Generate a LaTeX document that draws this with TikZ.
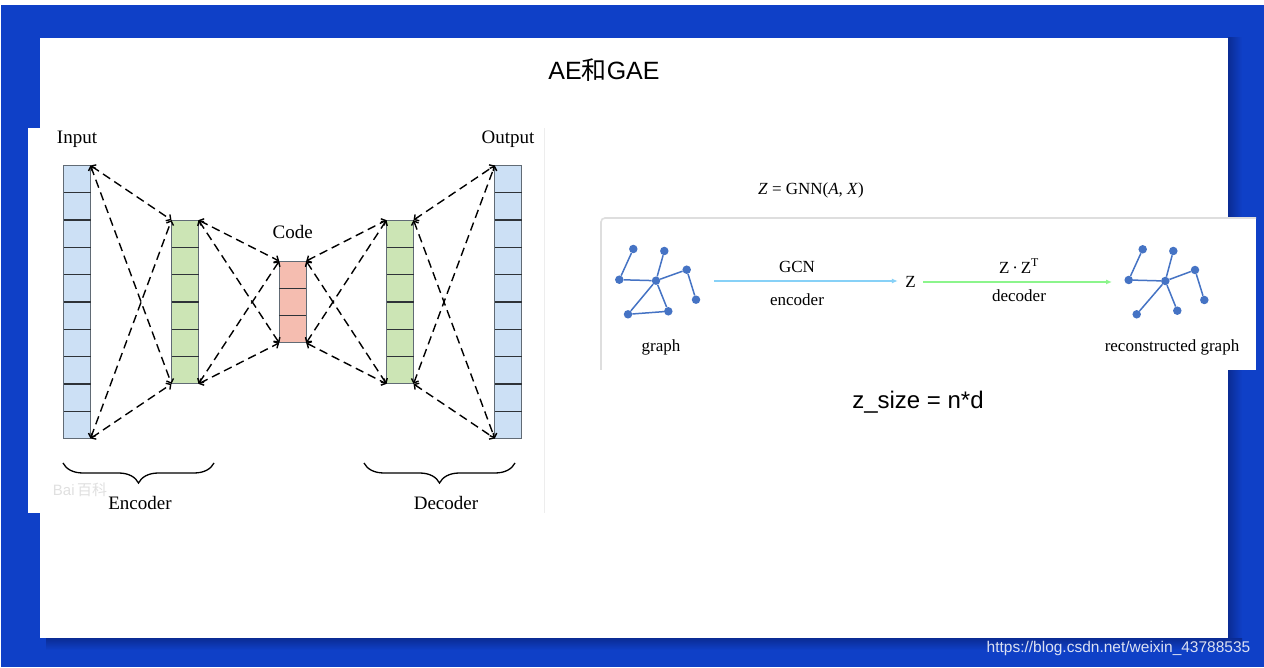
\documentclass[tikz,border=0pt]{standalone}
\usepackage{fontspec}
\setmainfont{Liberation Serif}
\setsansfont{Liberation Sans}
\newfontfamily\cjk{Noto Sans CJK SC}
\usetikzlibrary{arrows.meta, positioning, decorations.pathreplacing}

\begin{document}
\begin{tikzpicture}[x=1pt,y=1pt,
  layer/.style={draw=borderColor, line width=0.9pt, minimum width=27pt, inner sep=0pt, outer sep=0pt},
  cellline/.style={draw=cellColor, line width=1.3pt},
  link/.style={draw=black, line width=1.4pt, dash pattern=on 8.5pt off 5pt,
    {Straight Barb[length=3.5pt,width=7.5pt]}-{Straight Barb[length=3.5pt,width=7.5pt]}},
  underbrace/.style={draw=black, line width=1.3pt, decorate, decoration={brace, amplitude=20pt, mirror}},
  bigtext/.style={inner sep=0pt, font=\fontsize{19}{22}\selectfont},
  smalltext/.style={inner sep=0pt, font=\fontsize{17}{20}\selectfont},
  vertex/.style={circle, fill=graphColor, inner sep=0pt, minimum size=8.5pt},
  gline/.style={draw=graphColor, line width=1.5pt},
  encArrow/.style={draw=encColor, line width=1.4pt, -{Latex[length=6pt,width=5pt]}},
  decArrow/.style={draw=decColor, line width=1.4pt, -{Latex[length=6pt,width=5pt]}}]
\definecolor[named]{bgBlue}{rgb}{0.06,0.25,0.78}
\definecolor[named]{shadowBlue}{rgb}{0.04,0.17,0.58}
\definecolor[named]{borderColor}{rgb}{0.38,0.42,0.46}
\definecolor[named]{cellColor}{rgb}{0.18,0.20,0.22}
\definecolor[named]{inFill}{rgb}{0.80,0.88,0.96}
\definecolor[named]{hidFill}{rgb}{0.80,0.90,0.71}
\definecolor[named]{codeFill}{rgb}{0.96,0.74,0.69}
\definecolor[named]{graphColor}{rgb}{0.27,0.45,0.77}
\definecolor[named]{encColor}{rgb}{0.53,0.82,0.97}
\definecolor[named]{decColor}{rgb}{0.55,0.96,0.55}
\definecolor[named]{urlColor}{rgb}{0.86,0.88,0.95}

% slide background
\path[use as bounding box, fill=white] (0,0) rectangle (1264,667);
\path[fill=bgBlue] (1,0) rectangle (1264,662);
\path[left color=shadowBlue, right color=bgBlue] (1228,20) rectangle (1242,629);
\path[top color=shadowBlue, bottom color=bgBlue] (46,17) rectangle (1242,29);
\path[fill=white] (40,29) rectangle (1228,629);

% left picture
\path[fill=white] (28,154) rectangle (545,539);
\path[draw=black!7, line width=0.8pt] (544,154) -- (544,539);

\foreach \name/\xc/\n/\col in {in/77/10/inFill, enc/185/6/hidFill, code/292.7/3/codeFill, dec/400/6/hidFill, out/508.3/10/inFill} {
  \node[layer, fill=\col, minimum height=\n*27.3pt] (\name) at (\xc,365) {};
  \foreach \k in {2,...,\n}
    \draw[cellline] ({\xc-13.5},{365+\n*13.65-(\k-1)*27.3}) -- ++(27,0);
}

\foreach \l/\r in {in/enc, enc/code, code/dec, dec/out} {
  \draw[link] (\l.north east) -- (\r.north west);
  \draw[link] (\l.north east) -- (\r.south west);
  \draw[link] (\l.south east) -- (\r.north west);
  \draw[link] (\l.south east) -- (\r.south west);
}

\node[bigtext] (inLabel) at (77,528) {Input};
\node[bigtext] (outLabel) at (508,528) {Output};
\node[bigtext] (codeLabel) at (292.7,435) {Code};

\coordinate (encL) at (63,204);
\coordinate (encR) at (214,204);
\coordinate (decL) at (364,204);
\coordinate (decR) at (515,204);
\draw[underbrace] (encL) -- (encR);
\draw[underbrace] (decL) -- (decR);
\node[bigtext] (encLabel) at (140,164) {Encoder};
\node[bigtext] (decLabel) at (446,164) {Decoder};
\node[inner sep=0pt, text=black!12, font=\sffamily\fontsize{15}{17}\selectfont] (mark) at (80,177) {Bai\,{\cjk 百科}};

% right picture
\node[smalltext] (formula) at (811,477) {\textit{Z} = GNN(\textit{A}, \textit{X})};
\path[fill=white] (600,297) rectangle (1256,450);
\path[draw=black!13, line width=1.6pt, rounded corners=4pt] (601,297) -- (601,449) -- (1256,449);

\foreach \n/\px/\py in {a/633.3/418, b/664.3/416, c/619.3/387.3, d/656/386.3, e/686.7/397.3, f/696/367.3, g/628/352.7, h/668.3/355.7}
  \node[vertex] (g\n) at (\px,\py) {};
\foreach \u/\v in {a/c, c/d, b/d, d/e, e/f, d/g, g/h, d/h}
  \draw[gline] (g\u) -- (g\v);

\foreach \n/\px/\py in {a/1142.7/417.7, b/1173.3/416, c/1128.7/387, d/1165.3/386, e/1195/397, f/1204.3/367, g/1136.7/352.7, h/1177.3/356.3}
  \node[vertex] (r\n) at (\px,\py) {};
\foreach \u/\v in {a/c, c/d, b/d, d/e, e/f, d/g, d/h}
  \draw[gline] (r\u) -- (r\v);

\node[smalltext] (graphLabel) at (661,320) {graph};
\node[smalltext] (recLabel) at (1172,320) {reconstructed graph};

\node[smalltext, outer sep=7.5pt] (z) at (910.5,385) {Z};
\coordinate (encStart) at (714,386);
\coordinate (decEnd) at (1112,385);
\draw[encArrow] (encStart) -- (encStart -| z.west);
\draw[decArrow] (z.east) -- (decEnd);
\node[smalltext] (gcn) at (797,400) {GCN};
\node[smalltext] (encText) at (797,367) {encoder};
\node[smalltext] (zzt) at (1019,401) {Z\,·\,Z\textsuperscript{T}};
\node[smalltext] (decText) at (1019,371) {decoder};

% slide texts
\node[inner sep=0pt, font=\sffamily\fontsize{25}{28}\selectfont] (title) at (604,597) {AE{\cjk 和}GAE};
\node[inner sep=0pt, font=\sffamily\fontsize{24}{27}\selectfont] (zsize) at (918,265) {z\_size = n*d};
\node[inner sep=0pt, text=urlColor, font=\sffamily\fontsize{15.5}{18}\selectfont] (url) at (1118.5,19) {https://blog.csdn.net/weixin\_43788535};
\end{tikzpicture}
\end{document}
